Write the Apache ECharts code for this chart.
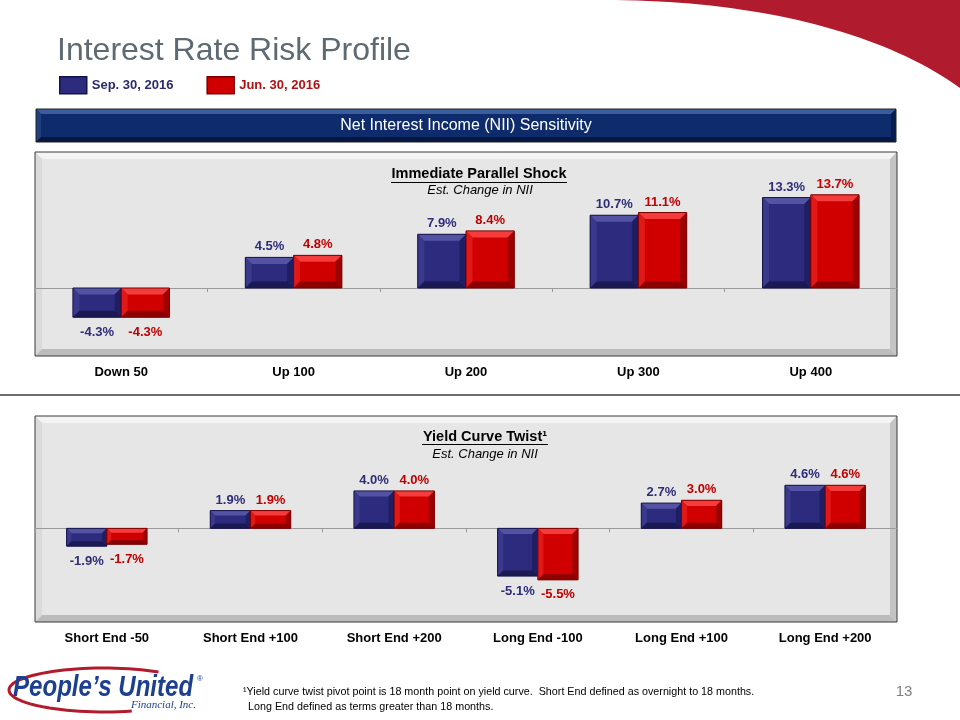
<!DOCTYPE html>
<html><head><meta charset="utf-8">
<script src="https://cdn.jsdelivr.net/npm/echarts@6/dist/echarts.min.js"></script>
<style>html,body{margin:0;padding:0;background:#fff}#c{width:960px;height:720px}</style>
</head><body><div id="c"></div>
<script>
// ---- data ----
const seriesNames = ['Sep. 30, 2016', 'Jun. 30, 2016'];
const shockCategories = ['Down 50', 'Up 100', 'Up 200', 'Up 300', 'Up 400'];
const shockSep = [-4.3, 4.5, 7.9, 10.7, 13.3];
const shockJun = [-4.3, 4.8, 8.4, 11.1, 13.7];
const twistCategories = ['Short End -50', 'Short End +100', 'Short End +200', 'Long End -100', 'Long End +100', 'Long End +200'];
const twistSep = [-1.9, 1.9, 4.0, -5.1, 2.7, 4.6];
const twistJun = [-1.7, 1.9, 4.0, -5.5, 3.0, 4.6];

// ---- styling ----
const FF = '"Liberation Sans", Arial, sans-serif';
const blue = {face:'#2c2b7e', top:'#5453a3', left:'#3a398c', right:'#1f1e62', bottom:'#1a1953', border:'#15144a', label:'#2e2d78'};
const red  = {face:'#d00000', top:'#f43c3c', left:'#e01818', right:'#9e0000', bottom:'#8c0000', border:'#780000', label:'#c00000'};
const panel = {face:'#e6e6e6', top:'#f4f4f4', left:'#dadada', right:'#c4c4c4', bottom:'#bcbcbc', border:'#3a3a3a'};
const header = {face:'#0e2c6b', top:'#3b5c9d', left:'#1f3f80', right:'#071c4e', bottom:'#051640', border:'#222222'};

function bevel(x, y, w, h, d, c, z) {
  const x2 = x + w, y2 = y + h;
  const els = [
    {type:'rect', shape:{x, y, width:w, height:h}, style:{fill:c.face}},
    {type:'polygon', shape:{points:[[x,y],[x2,y],[x2-d,y+d],[x+d,y+d]]}, style:{fill:c.top}},
    {type:'polygon', shape:{points:[[x,y],[x+d,y+d],[x+d,y2-d],[x,y2]]}, style:{fill:c.left}},
    {type:'polygon', shape:{points:[[x2,y],[x2,y2],[x2-d,y2-d],[x2-d,y+d]]}, style:{fill:c.right}},
    {type:'polygon', shape:{points:[[x,y2],[x+d,y2-d],[x2-d,y2-d],[x2,y2]]}, style:{fill:c.bottom}},
    {type:'rect', shape:{x, y, width:w, height:h}, style:{fill:'none', stroke:c.border, lineWidth:1}}
  ];
  if (z !== undefined) els.forEach((e, k) => { e.z = z; e.z2 = k; });
  return els;
}

function barSeries(name, values, gi, side, pal) {
  return {
    type: 'custom', name: name, xAxisIndex: gi * 2, yAxisIndex: gi,
    data: values.map((v, i) => [i, v]),
    encode: {x: 0, y: 1},
    itemStyle: {color: pal.face, borderColor: pal.border},
    renderItem: function (params, api) {
      const i = api.value(0), v = api.value(1);
      const base = api.coord([i, 0]), tip = api.coord([i, v]);
      const band = api.size([1, 0])[0];
      const w = band * 0.28;
      const x = base[0] + (side < 0 ? -w : 0);
      const y = Math.min(base[1], tip[1]);
      const h = Math.abs(base[1] - tip[1]);
      const d = Math.max(2, Math.min(6.5, w * 0.14, h * 0.27));
      const children = bevel(x, y, w, h, d, pal);
      children.push({type:'text', style:{
        text: v.toFixed(1) + '%', x: x + w / 2,
        y: v >= 0 ? y - 4 : y + h + 8.5,
        align: 'center', verticalAlign: v >= 0 ? 'bottom' : 'top',
        fill: pal.label, font: 'bold 13px ' + FF}});
      return {type: 'group', children: children};
    }
  };
}

// decorative swoosh (top-right)
function swooshPoints() {
  const P = [[605,0],[750,0],[880,30],[960,88]];
  const pts = [];
  for (let k = 0; k <= 40; k++) {
    const t = k / 40, a = (1-t)**3, b = 3*(1-t)**2*t, c = 3*(1-t)*t*t, d = t**3;
    pts.push([a*P[0][0]+b*P[1][0]+c*P[2][0]+d*P[3][0], a*P[0][1]+b*P[1][1]+c*P[2][1]+d*P[3][1]]);
  }
  pts.push([960, 0]);
  return pts;
}
function logoArc() {
  const pts = [];
  for (let a = -55; a >= -290; a -= 4) {
    const r = a * Math.PI / 180;
    pts.push([104 + 95 * Math.cos(r), 690 + 22 * Math.sin(r)]);
  }
  return pts;
}

const graphics = [].concat(
  [{type:'polygon', shape:{points: swooshPoints()}, style:{fill:'#b01c2e'}, z:-20}],
  [{type:'line', shape:{x1:0, y1:395, x2:960, y2:395}, style:{stroke:'#3c3c3c', lineWidth:1.5}, z:-20}],
  bevel(36, 109, 860, 33, 5, header, -15),
  bevel(35, 152, 862, 204, 7, panel, -15),
  bevel(35, 416, 862, 206, 7, panel, -15),
  [
    {type:'text', z:5, style:{text:'Interest Rate Risk Profile', x:57, y:51, verticalAlign:'middle', fill:'#5e6a72', font:'32px ' + FF}},
    {type:'text', z:5, style:{text:'Net Interest Income (NII) Sensitivity', x:466, y:126, align:'center', verticalAlign:'middle', fill:'#ffffff', font:'16px ' + FF}},
    {type:'text', z:5, style:{text:'Immediate Parallel Shock', x:479, y:174, align:'center', verticalAlign:'middle', fill:'#000', font:'bold 14.5px ' + FF}},
    {type:'line', z:5, shape:{x1:391, y1:182.5, x2:567, y2:182.5}, style:{stroke:'#000', lineWidth:1}},
    {type:'text', z:5, style:{text:'Est. Change in NII', x:480, y:190, align:'center', verticalAlign:'middle', fill:'#000', font:'italic 13px ' + FF}},
    {type:'text', z:5, style:{text:'Yield Curve Twist\u00b9', x:485, y:437, align:'center', verticalAlign:'middle', fill:'#000', font:'bold 14.5px ' + FF}},
    {type:'line', z:5, shape:{x1:422, y1:444.5, x2:548, y2:444.5}, style:{stroke:'#000', lineWidth:1}},
    {type:'text', z:5, style:{text:'Est. Change in NII', x:485, y:454, align:'center', verticalAlign:'middle', fill:'#000', font:'italic 13px ' + FF}},
    {type:'polyline', z:4, shape:{points: logoArc()}, style:{stroke:'#b01c2e', lineWidth:3, fill:'none'}},
    {type:'text', z:5, x:13, y:688, scaleX:0.83, style:{text:'People\u2019s United', x:0, y:0, verticalAlign:'middle', fill:'#1d3f92', font:'italic bold 29px ' + FF}},
    {type:'text', z:5, style:{text:'\u00ae', x:197, y:679, verticalAlign:'middle', fill:'#1d3f92', font:'8px ' + FF}},
    {type:'text', z:5, style:{text:'Financial, Inc.', x:196, y:705, align:'right', verticalAlign:'middle', fill:'#1d3f92', font:'italic 11px "Liberation Serif", serif'}},
    {type:'text', z:5, x:243, y:692, scaleX:0.96, style:{text:'\u00b9Yield curve twist pivot point is 18 month point on yield curve.  Short End defined as overnight to 18 months.', x:0, y:0, verticalAlign:'middle', fill:'#000', font:'11.2px ' + FF}},
    {type:'text', z:5, x:248, y:707, scaleX:0.96, style:{text:'Long End defined as terms greater than 18 months.', x:0, y:0, verticalAlign:'middle', fill:'#000', font:'11.2px ' + FF}},
    {type:'text', z:5, style:{text:'13', x:904, y:692, align:'center', verticalAlign:'middle', fill:'#7f7f7f', font:'15px ' + FF}}
  ]
);

function axesFor(gi, cats) {
  return [
    {gridIndex: gi, type:'category', data: cats,
     axisLine:{onZero:true, lineStyle:{color:'#9a9a9a', width:1}},
     axisTick:{show:true, length:4, lineStyle:{color:'#9a9a9a'}},
     axisLabel:{show:false}, splitLine:{show:false}},
    {gridIndex: gi, type:'category', data: cats, position:'bottom',
     axisLine:{show:false, onZero:false}, axisTick:{show:false}, splitLine:{show:false},
     axisLabel:{margin:10, color:'#000', fontWeight:'bold', fontSize:13, fontFamily: FF}}
  ];
}

const chart = echarts.init(document.getElementById('c'), null, {renderer:'canvas'});
chart.setOption({
  animation: false,
  backgroundColor: '#ffffff',
  legend: {
    left: 54, top: 71, itemWidth: 27, itemHeight: 17, itemGap: 33, icon: 'rect', selectedMode: false,
    textStyle: {fontWeight:'bold', fontSize:13, fontFamily: FF},
    data: [
      {name: seriesNames[0], itemStyle:{color: blue.face, borderColor: blue.border, borderWidth: 1.5}, textStyle:{color:'#2b2a6e'}},
      {name: seriesNames[1], itemStyle:{color: red.face, borderColor: red.border, borderWidth: 1.5}, textStyle:{color:'#b01010'}}
    ]
  },
  graphic: graphics,
  grid: [
    {left: 35, top: 152, width: 862, height: 204},
    {left: 35, top: 416, width: 862, height: 206}
  ],
  xAxis: axesFor(0, shockCategories).concat(axesFor(1, twistCategories)),
  yAxis: [
    {gridIndex: 0, type:'value', min:-10, max:20, show:false},
    {gridIndex: 1, type:'value', min:-10, max:12, show:false}
  ],
  series: [
    barSeries(seriesNames[0], shockSep, 0, -1, blue),
    barSeries(seriesNames[1], shockJun, 0, 1, red),
    barSeries(seriesNames[0], twistSep, 1, -1, blue),
    barSeries(seriesNames[1], twistJun, 1, 1, red)
  ]
});
</script>
</body></html>
